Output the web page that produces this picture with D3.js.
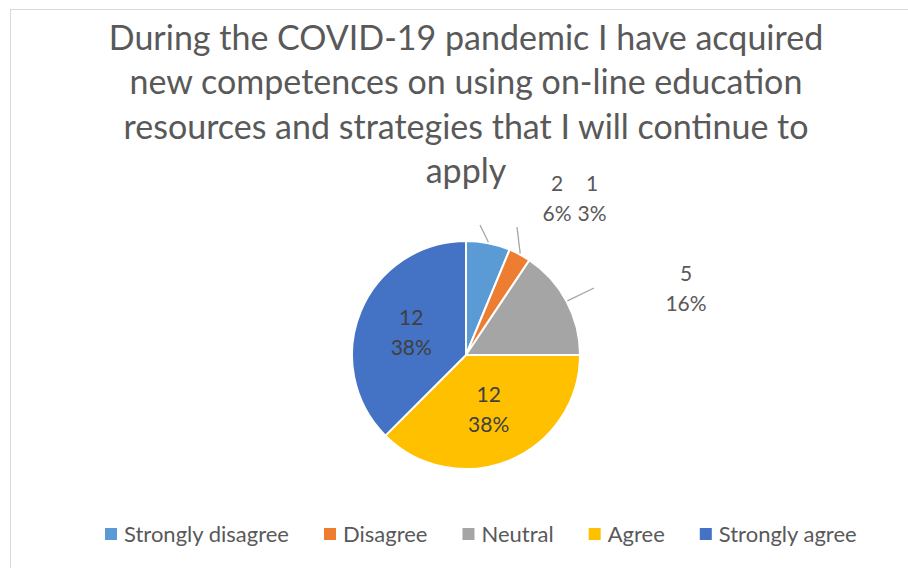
<!DOCTYPE html>
<html>
<head>
<meta charset="utf-8">
<script src="https://cdn.jsdelivr.net/npm/d3@7"></script>
<style>
  html, body { margin: 0; padding: 0; background: #fff; }
  svg { display: block; }
  text { font-family: Lato, "Open Sans", sans-serif; }
</style>
</head>
<body>
<svg id="chart" width="908" height="568"></svg>
<script>
// Survey responses
const categories = ["Strongly disagree", "Disagree", "Neutral", "Agree", "Strongly agree"];
const counts = [2, 1, 5, 12, 12];
const colors = ["#5B9BD5", "#ED7D31", "#A5A5A5", "#FFC000", "#4472C4"];
const titleLines = [
  "During the COVID-19 pandemic I have acquired",
  "new competences on using on-line education",
  "resources and strategies that I will continue to",
  "apply"
];

const svg = d3.select("#chart");
const W = 908, H = 568;

// chart-area frame
svg.append("rect")
  .attr("x", 10.5).attr("y", 9.5)
  .attr("width", W).attr("height", H)
  .attr("fill", "#fff")
  .attr("stroke", "#d9d9d9").attr("stroke-width", 1);

// title
const title = svg.append("g").attr("fill", "#595959")
  .attr("font-size", 34).attr("text-anchor", "middle");
titleLines.forEach((t, i) => {
  title.append("text").attr("x", 466).attr("y", 50 + i * 44.3).text(t);
});

// pie
const cx = 466, cy = 355, r = 114;
const total = d3.sum(counts);
const pie = d3.pie().sort(null).value(d => d.value);
const data = categories.map((c, i) => ({ name: c, value: counts[i], color: colors[i] }));
const arcs = pie(data);
const arc = d3.arc().innerRadius(0).outerRadius(r);

const g = svg.append("g").attr("transform", `translate(${cx},${cy})`);
g.selectAll("path.slice").data(arcs).enter().append("path")
  .attr("class", "slice")
  .attr("d", arc)
  .attr("fill", d => d.data.color)
  .attr("stroke", "#fff").attr("stroke-width", 2).attr("stroke-linejoin", "round");

const pct = v => Math.round(v / total * 100) + "%";

// outside labels with leader lines (small slices); offsets relative to pie centre
const outside = {
  "Strongly disagree": { lx: 91, ly: -164, ex: 14, ey: -130 },
  "Disagree": { lx: 126, ly: -164, ex: 51, ey: -128 },
  "Neutral": { lx: 220, ly: -74, ex: 128, ey: -67 }
};
// inside labels for the large slices, as a fraction of the radius
const insideFrac = 0.52;

arcs.forEach(d => {
  const mid = (d.startAngle + d.endAngle) / 2;
  const o = outside[d.data.name];
  if (o) {
    const sx = Math.sin(mid) * (r + 1), sy = -Math.cos(mid) * (r + 1);
    g.append("line")
      .attr("x1", sx).attr("y1", sy).attr("x2", o.ex).attr("y2", o.ey)
      .attr("stroke", "#a6a6a6").attr("stroke-width", 1.3);
    const t = g.append("text").attr("fill", "#595959").attr("font-size", 21)
      .attr("text-anchor", "middle");
    t.append("tspan").attr("x", o.lx).attr("y", o.ly).text(d.data.value);
    t.append("tspan").attr("x", o.lx).attr("y", o.ly + 30).text(pct(d.data.value));
  } else {
    const px = Math.sin(mid) * r * insideFrac, py = -Math.cos(mid) * r * insideFrac;
    const t = g.append("text").attr("fill", "#404040").attr("font-size", 21)
      .attr("text-anchor", "middle");
    t.append("tspan").attr("x", px).attr("y", py - 7.5).text(d.data.value);
    t.append("tspan").attr("x", px).attr("y", py + 22.5).text(pct(d.data.value));
  }
});

// legend
const legend = svg.append("g").attr("font-size", 22).attr("fill", "#595959");
let lxPos = 105;
categories.forEach((c, i) => {
  const item = legend.append("g").attr("transform", `translate(${lxPos},534)`);
  item.append("rect").attr("x", 0).attr("y", -6).attr("width", 12).attr("height", 12)
    .attr("fill", colors[i]);
  const txt = item.append("text").attr("x", 19).attr("y", 8).text(c);
  lxPos += 19 + txt.node().getComputedTextLength() + 35;
});
</script>
</body>
</html>
